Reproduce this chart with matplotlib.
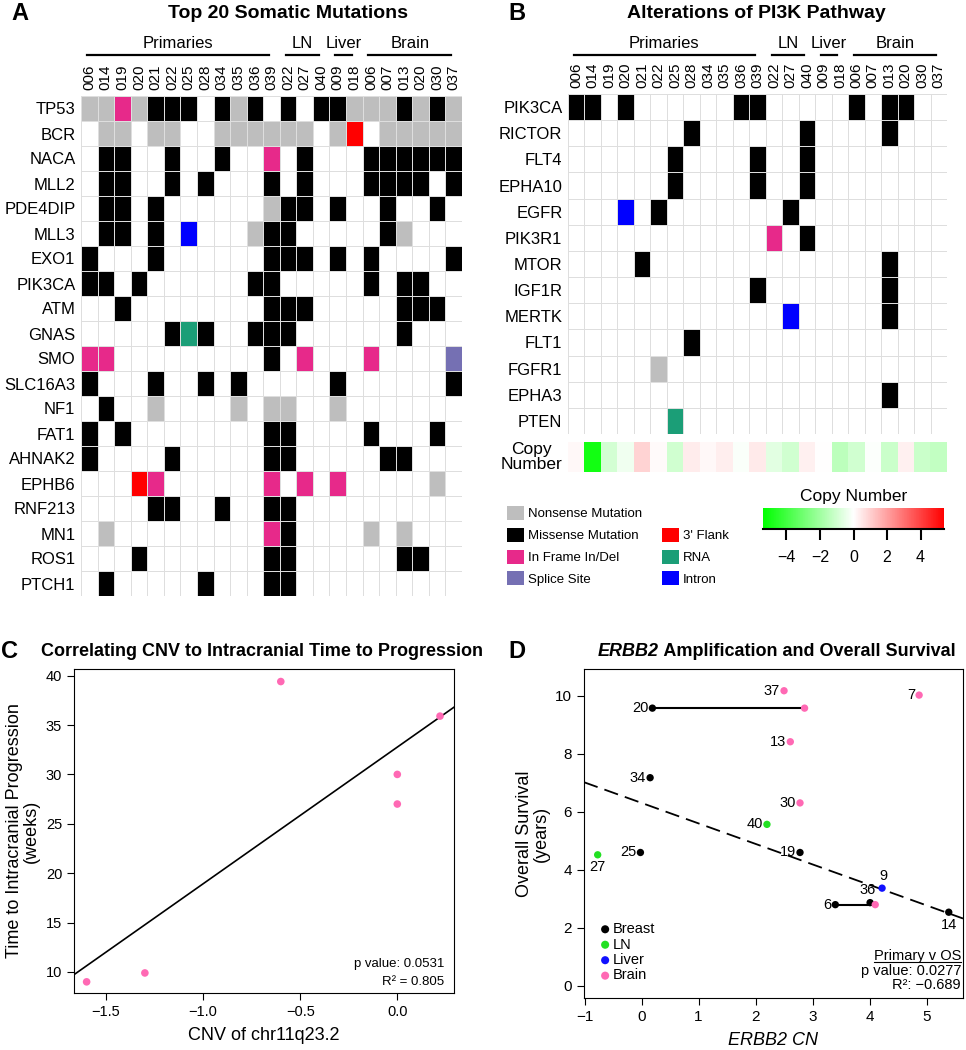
import numpy as np
import matplotlib
matplotlib.use("Agg")
import matplotlib.pyplot as plt
from matplotlib.colors import ListedColormap, BoundaryNorm, LinearSegmentedColormap, Normalize
from matplotlib.patches import Patch
from matplotlib.transforms import blended_transform_factory
from matplotlib.cm import ScalarMappable

plt.rcParams["font.family"] = ["Liberation Sans", "DejaVu Sans"]

# ---------------- data ----------------
SAMPLES = ["006", "014", "019", "020", "021", "022", "025", "028", "034", "035", "036", "039",
           "022", "027", "040", "009", "018", "006", "007", "013", "020", "030", "037"]
GROUPS = [("Primaries", 0, 12), ("LN", 12, 15), ("Liver", 15, 17), ("Brain", 17, 23)]

# 0 none, 1 nonsense, 2 missense, 3 in-frame indel, 4 splice, 5 3' flank, 6 RNA, 7 intron
MUT_TYPES = ["", "Nonsense Mutation", "Missense Mutation", "In Frame In/Del", "Splice Site",
             "3' Flank", "RNA", "Intron"]
MUT_COLORS = ["white", "#bebebe", "black", "#e7298a", "#7570b3", "#ff0000", "#1b9e77", "#0000ff"]

TOP20_GENES = ["TP53", "BCR", "NACA", "MLL2", "PDE4DIP", "MLL3", "EXO1", "PIK3CA", "ATM", "GNAS",
               "SMO", "SLC16A3", "NF1", "FAT1", "AHNAK2", "EPHB6", "RNF213", "MN1", "ROS1", "PTCH1"]
TOP20 = [
    [1,1,3,1,2,2,2,0,2,1,2,0,2,0,2,2,1,1,1,2,1,2,1],
    [0,1,1,0,1,1,0,0,1,1,1,1,1,1,0,1,5,0,1,1,1,1,1],
    [0,2,2,0,0,2,0,0,2,0,0,3,0,2,0,0,0,2,2,2,2,2,2],
    [0,2,2,0,0,2,0,2,0,0,0,2,0,2,0,0,0,2,2,2,2,0,2],
    [0,2,2,0,2,0,0,0,0,0,0,1,2,2,0,2,0,0,2,0,0,2,0],
    [0,2,2,0,2,0,7,0,0,0,1,2,2,0,0,0,0,0,2,1,0,0,0],
    [2,0,0,0,2,0,0,0,0,0,0,2,2,2,0,2,0,2,0,0,0,0,2],
    [2,2,0,2,0,0,0,0,0,0,2,2,0,0,0,0,0,2,0,2,2,0,0],
    [0,0,2,0,0,0,0,0,0,0,0,2,2,2,0,0,0,0,0,2,2,2,0],
    [0,0,0,0,0,2,6,2,0,0,2,2,2,0,0,0,0,0,0,2,0,0,0],
    [3,3,0,0,0,0,0,0,0,0,0,2,0,3,0,0,0,3,0,0,0,0,4],
    [2,0,0,0,2,0,0,2,0,2,0,0,0,0,0,2,0,0,0,0,0,0,2],
    [0,2,0,0,1,0,0,0,0,1,0,1,1,0,0,1,0,0,0,0,0,0,0],
    [2,0,2,0,0,0,0,0,0,0,0,2,2,0,0,0,0,2,0,0,0,2,0],
    [2,0,0,0,0,2,0,0,0,0,0,2,2,0,0,0,0,0,2,2,0,0,0],
    [0,0,0,5,3,0,0,0,0,0,0,3,0,3,0,3,0,0,0,0,0,1,0],
    [0,0,0,0,2,2,0,0,2,0,0,2,2,0,0,0,0,0,0,0,0,0,0],
    [0,1,0,0,0,0,0,0,0,0,0,3,2,0,0,0,0,1,0,1,0,0,0],
    [0,0,0,2,0,0,0,0,0,0,0,2,2,0,0,0,0,0,0,2,2,0,0],
    [0,2,0,0,0,0,0,2,0,0,0,2,2,0,0,0,0,0,0,0,0,0,0],
]

PI3K_GENES = ["PIK3CA", "RICTOR", "FLT4", "EPHA10", "EGFR", "PIK3R1", "MTOR", "IGF1R", "MERTK",
              "FLT1", "FGFR1", "EPHA3", "PTEN"]
PI3K = [
    [2,2,0,2,0,0,0,0,0,0,2,2,0,0,0,0,0,2,0,2,2,0,0],
    [0,0,0,0,0,0,0,2,0,0,0,0,0,0,2,0,0,0,0,2,0,0,0],
    [0,0,0,0,0,0,2,0,0,0,0,2,0,0,2,0,0,0,0,0,0,0,0],
    [0,0,0,0,0,0,2,0,0,0,0,2,0,0,2,0,0,0,0,0,0,0,0],
    [0,0,0,7,0,2,0,0,0,0,0,0,0,2,0,0,0,0,0,0,0,0,0],
    [0,0,0,0,0,0,0,0,0,0,0,0,3,0,2,0,0,0,0,0,0,0,0],
    [0,0,0,0,2,0,0,0,0,0,0,0,0,0,0,0,0,0,0,2,0,0,0],
    [0,0,0,0,0,0,0,0,0,0,0,2,0,0,0,0,0,0,0,2,0,0,0],
    [0,0,0,0,0,0,0,0,0,0,0,0,0,7,0,0,0,0,0,2,0,0,0],
    [0,0,0,0,0,0,0,2,0,0,0,0,0,0,0,0,0,0,0,0,0,0,0],
    [0,0,0,0,0,1,0,0,0,0,0,0,0,0,0,0,0,0,0,0,0,0,0],
    [0,0,0,0,0,0,0,0,0,0,0,0,0,0,0,0,0,0,0,2,0,0,0],
    [0,0,0,0,0,0,6,0,0,0,0,0,0,0,0,0,0,0,0,0,0,0,0],
]
COPY_NUMBER = [0.15, -5.0, -0.9, -0.3, 0.9, 0.1, -1.0, 0.4, 0.15, 0.35, -0.1, 0.45,
               -0.6, -1.0, 0.3, 0.0, -1.4, -1.0, -0.05, -1.1, 0.3, -1.1, -1.3]

# panel C
CNV = [-1.6, -1.3, -0.6, 0.0, 0.0, 0.22]
TTP_WEEKS = [9.0, 9.9, 39.4, 30.0, 27.0, 35.9]

# panel D
BREAST_ID = ["20", "34", "25", "19", "36", "6", "14"]
BREAST_CN = [0.19, 0.15, -0.02, 2.78, 4.01, 3.40, 5.39]
BREAST_OS = [9.57, 7.17, 4.59, 4.59, 2.86, 2.79, 2.53]
LN_ID = ["40", "27"]
LN_CN = [2.20, -0.77]
LN_OS = [5.56, 4.51]
LIVER_ID = ["9"]
LIVER_CN = [4.22]
LIVER_OS = [3.36]
BRAIN_ID = ["37", "7", "20", "13", "30", "6"]
BRAIN_CN = [2.50, 4.87, 2.86, 2.61, 2.78, 4.10]
BRAIN_OS = [10.17, 10.02, 9.57, 8.41, 6.30, 2.79]
PAIRED = ["20", "6"]            # primary linked to its brain metastasis
OS_FIT = (-0.707, 6.30)         # slope, intercept of dashed trend line

# ---------------- layout helpers ----------------
W, H = 966, 1050
fig = plt.figure(figsize=(W / 100, H / 100), dpi=100)

def px_axes(x0, y0, x1, y1):
    return fig.add_axes([x0 / W, 1 - y1 / H, (x1 - x0) / W, (y1 - y0) / H])

def ftext(x, y, s, **kw):
    return fig.text(x / W, 1 - y / H, s, **kw)

mut_cmap = ListedColormap(MUT_COLORS)
mut_norm = BoundaryNorm(np.arange(-0.5, len(MUT_COLORS)), len(MUT_COLORS))
cn_cmap = LinearSegmentedColormap.from_list("cn", ["#00ff00", "white", "#ff0000"])
cn_norm = Normalize(-5.4, 5.4)

def oncoprint(ax, mat, genes, line_y, label_y):
    m = np.array(mat)
    ax.pcolormesh(m, cmap=mut_cmap, norm=mut_norm, edgecolors="#dedede", linewidth=0.6)
    ax.set_ylim(len(genes), 0)
    ax.set_xlim(0, len(SAMPLES))
    ax.set_yticks(np.arange(len(genes)) + 0.5)
    ax.set_yticklabels(genes, fontsize=12)
    ax.set_xticks(np.arange(len(SAMPLES)) + 0.5)
    ax.set_xticklabels(SAMPLES, rotation=90, fontsize=11)
    ax.xaxis.tick_top()
    ax.tick_params(length=0, pad=4)
    for s in ax.spines.values():
        s.set_visible(False)
    tr = blended_transform_factory(ax.transData, fig.transFigure)
    for name, a, b in GROUPS:
        x0, x1 = a + 0.35, b - 0.65
        ax.plot([x0, x1], [1 - line_y / H] * 2, transform=tr, color="black", lw=1.6, clip_on=False)
        ax.text((x0 + x1) / 2, 1 - label_y / H, name, transform=tr, ha="center", va="center",
                fontsize=12)

# ---------------- panel A ----------------
ftext(20, 14, "A", fontsize=17, fontweight="bold", va="center", ha="center")
ftext(288, 13, "Top 20 Somatic Mutations", fontsize=14, fontweight="bold", va="center", ha="center")
axA = px_axes(81, 96, 462, 596)
oncoprint(axA, TOP20, TOP20_GENES, 55, 43)

# ---------------- panel B ----------------
ftext(517, 14, "B", fontsize=17, fontweight="bold", va="center", ha="center")
ftext(756, 13, "Alterations of PI3K Pathway", fontsize=14, fontweight="bold", va="center", ha="center")
axB = px_axes(568, 94, 947, 434)
oncoprint(axB, PI3K, PI3K_GENES, 55, 43)

axCN = px_axes(568, 442, 947, 472)
axCN.imshow(np.array(COPY_NUMBER)[None, :], cmap=cn_cmap, norm=cn_norm, aspect="auto")
axCN.set_axis_off()
ftext(531, 457, "Copy\nNumber", fontsize=12.5, ha="center", va="center", linespacing=1.05)

handles = [Patch(facecolor=MUT_COLORS[i], edgecolor="none", label=MUT_TYPES[i]) for i in (1, 2, 3, 4)]
handles += [Patch(facecolor="none", edgecolor="none", label="")]
handles += [Patch(facecolor=MUT_COLORS[i], edgecolor="none", label=MUT_TYPES[i]) for i in (5, 6, 7)]
fig.legend(handles=handles, loc="upper left", bbox_to_anchor=(507 / W, 1 - 506 / H), ncol=2,
           frameon=False, fontsize=9.5, handlelength=1.3, handleheight=1.25, handletextpad=0.3,
           labelspacing=0.56, columnspacing=1.5, borderpad=0, borderaxespad=0)

cax = px_axes(763, 508, 944, 529)
cb = fig.colorbar(ScalarMappable(norm=cn_norm, cmap=cn_cmap), cax=cax, orientation="horizontal",
                  ticks=[-4, -2, 0, 2, 4])
cb.outline.set_visible(False)
cax.plot([0, 1], [0, 0], transform=cax.transAxes, color="black", lw=1.5, clip_on=False)
cax.tick_params(direction="out", length=8, width=1.5, labelsize=11.5, pad=7)
ftext(854, 497, "Copy Number", fontsize=12.5, ha="center", va="center")

# ---------------- panel C ----------------
ftext(10, 652, "C", fontsize=17, fontweight="bold", va="center", ha="center")
ftext(262, 652, "Correlating CNV to Intracranial Time to Progression", fontsize=13,
      fontweight="bold", va="center", ha="center")
axC = px_axes(74, 669, 454, 993)
axC.scatter(CNV, TTP_WEEKS, s=30, color="#ff69b4", edgecolors="none", zorder=3)
xlimC = (-1.665, 0.292)
k, b0 = np.polyfit(CNV, TTP_WEEKS, 1)
xx = np.array(xlimC)
axC.plot(xx, k * xx + b0, color="black", lw=1.2)
axC.set_xlim(*xlimC)
axC.set_ylim(7.87, 40.67)
axC.set_xticks([-1.5, -1.0, -0.5, 0.0])
axC.set_yticks([10, 15, 20, 25, 30, 35, 40])
axC.tick_params(direction="out", length=5, labelsize=10.5)
axC.set_xlabel("CNV of chr11q23.2", fontsize=13, labelpad=6)
axC.set_ylabel("Time to Intracranial Progression\n(weeks)", fontsize=13, labelpad=4, linespacing=1.0)
axC.text(0.975, 0.09, "p value: 0.0531", transform=axC.transAxes, ha="right", va="center", fontsize=9.5)
axC.text(0.975, 0.035, "R\u00b2 = 0.805", transform=axC.transAxes, ha="right", va="center", fontsize=9.5)

# ---------------- panel D ----------------
ftext(517, 651, "D", fontsize=17, fontweight="bold", va="center", ha="center")
t1 = ftext(0, 652, "ERBB2", fontsize=13, fontweight="bold", fontstyle="italic", va="center")
t2 = ftext(0, 652, " Amplification and Overall Survival", fontsize=13, fontweight="bold", va="center")
r = fig.canvas.get_renderer()
w1 = t1.get_window_extent(r).width
w2 = t2.get_window_extent(r).width
start = 777 - (w1 + w2) / 2
t1.set_x(start / W)
t2.set_x((start + w1) / W)

axD = px_axes(584, 669, 963, 998)
xlimD = (-1.01, 5.64)
xx = np.array(xlimD)
axD.plot(xx, OS_FIT[0] * xx + OS_FIT[1], color="black", lw=1.3, ls=(0, (8, 4)), zorder=1)
for pid in PAIRED:
    i, j = BREAST_ID.index(pid), BRAIN_ID.index(pid)
    axD.plot([BREAST_CN[i], BRAIN_CN[j]], [BREAST_OS[i], BRAIN_OS[j]], color="black", lw=1.5, zorder=2)

groups = [("Breast", "black", BREAST_ID, BREAST_CN, BREAST_OS),
          ("LN", "#22e022", LN_ID, LN_CN, LN_OS),
          ("Liver", "#1010ff", LIVER_ID, LIVER_CN, LIVER_OS),
          ("Brain", "#ff69b4", BRAIN_ID, BRAIN_CN, BRAIN_OS)]
# where each point's label sits; brain points paired with a primary are not labelled
label_pos = {"27": "below", "14": "below", "9": "above", "36": "aboveleft"}
for name, col, ids, xs, ys in groups:
    axD.scatter(xs, ys, s=28, color=col, edgecolors="none", zorder=3, label=name)
    for pid, x, y in zip(ids, xs, ys):
        if name == "Brain" and pid in PAIRED:
            continue
        pos = label_pos.get(pid, "left")
        if pos == "left":
            off, ha, va = (-3, 0), "right", "center"
        elif pos == "below":
            off, ha, va = (0, -4), "center", "top"
        elif pos == "above":
            off, ha, va = (1, 4), "center", "bottom"
        else:
            off, ha, va = (-2, 4), "center", "bottom"
        axD.annotate(pid, (x, y), xytext=off, textcoords="offset points", ha=ha, va=va, fontsize=10.5)
axD.set_xlim(*xlimD)
axD.set_ylim(-0.43, 10.92)
axD.set_xticks(range(-1, 6))
axD.set_yticks(range(0, 11, 2))
axD.tick_params(direction="out", length=5, labelsize=11)
axD.set_xlabel("ERBB2 CN", fontsize=13, fontstyle="italic", labelpad=6)
axD.set_ylabel("Overall Survival\n(years)", fontsize=13, labelpad=4, linespacing=1.0)
axD.legend(loc="lower left", bbox_to_anchor=(0.025, 0.025), frameon=False, fontsize=10.5,
           handlelength=0.6, handletextpad=0.2, labelspacing=0.1, borderpad=0, markerscale=1.1)
tp = axD.text(0.995, 0.128, "Primary v OS", transform=axD.transAxes,
              ha="right", va="center", fontsize=10.5)
bb = tp.get_window_extent(r).transformed(axD.transAxes.inverted())
axD.plot([bb.x0, bb.x1], [bb.y0 + 0.004] * 2, transform=axD.transAxes, color="black", lw=0.8,
         clip_on=False)
axD.text(0.995, 0.082, "p value: 0.0277", transform=axD.transAxes, ha="right", va="center", fontsize=10.5)
axD.text(0.995, 0.038, "R\u00b2: \u22120.689", transform=axD.transAxes, ha="right", va="center", fontsize=10.5)

fig.savefig("out.png", dpi=100)
